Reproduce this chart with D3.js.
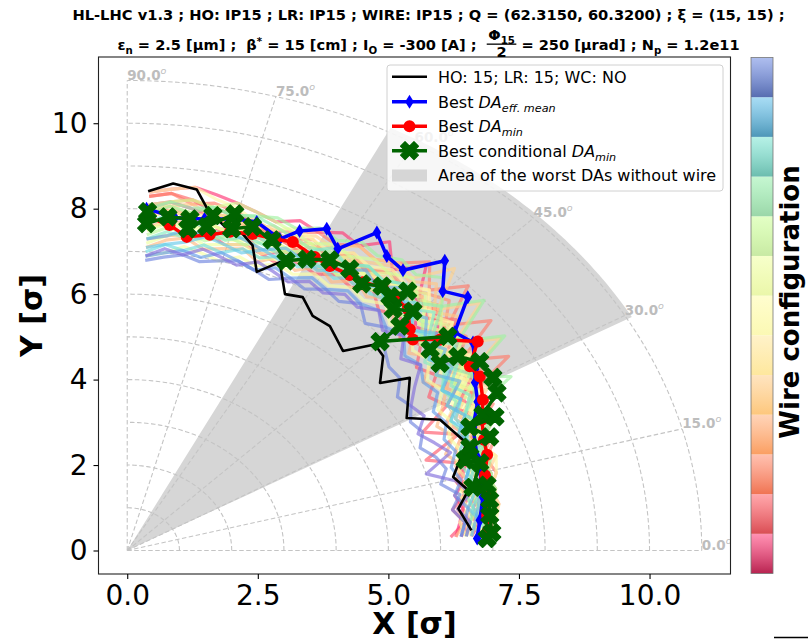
<!DOCTYPE html>
<html><head><meta charset="utf-8">
<script src="https://cdn.jsdelivr.net/npm/d3@7"></script>
<style>body{margin:0;background:#fff}svg{display:block}text{font-family:"DejaVu Sans",sans-serif;white-space:pre}</style>
</head><body><svg id="c" width="808" height="642"></svg>
<script>
// ---------------- data ----------------
const titleLine1 = "HL-LHC v1.3 ; HO: IP15 ; LR: IP15 ; WIRE: IP15 ; Q = (62.3150, 60.3200) ; ξ = (15, 15) ;";
const xTicks = [0, 2.5, 5, 7.5, 10];
const yTicks = [0, 2, 4, 6, 8, 10];
const gridRadii = [1, 2, 3, 4, 5, 6, 7, 8, 9, 10, 11];
const gridAngles = [0, 15, 30, 45, 60, 75, 90];
const angleLabels = ["0.0", "15.0", "30.0", "45.0", "60.0", "75.0", "90.0"];
const wedgeAngles = [29.5, 63];
const wedgeRadius = 11.1;
const nConfigBands = 13;

// wire-configuration scan lines: DA radius at each angle
const bgAngles = [2.9,5.8,8.7,11.6,14.5,17.4,20.3,23.2,26.1,29.0,31.9,34.8,37.7,40.6,43.5,46.5,49.4,52.3,55.2,58.1,61.0,63.9,66.8,69.7,72.6,75.5,78.4,81.3,84.2,87.1];
const bgRadii = [
 [6.3,6.4,6.5,6.4,6.7,6.6,6.9,7.0,6.8,7.3,7.1,7.6,7.3,7.8,7.6,8.1,7.8,8.0,7.7,7.9,7.8,7.6,7.9,7.7,7.8,7.9,8.0,8.1,8.2,8.1],
 [6.6,6.8,6.7,7.0,6.9,7.1,7.3,7.1,7.5,7.3,7.8,7.5,8.0,7.8,8.3,8.1,8.8,8.3,8.8,8.4,8.5,8.3,8.4,8.2,8.3,8.4,8.5,8.6,8.5,8.4],
 [6.2,6.5,6.3,6.6,6.5,6.8,6.7,7.0,7.3,7.0,7.5,7.2,7.8,7.5,8.2,7.9,7.7,8.0,7.6,7.8,7.5,7.7,7.6,7.4,7.7,7.8,7.6,7.9,8.0,7.9],
 [6.4,6.6,6.5,6.7,6.6,6.8,6.1,6.9,6.3,7.0,6.8,7.2,7.0,7.4,7.2,7.6,7.4,7.7,7.5,7.6,7.4,7.5,7.3,7.4,7.5,7.4,7.6,7.5,7.4,7.3],
 [6.6,6.7,6.6,6.9,6.8,7.1,6.9,7.3,7.1,7.6,7.4,7.9,7.6,8.3,7.9,8.2,8.1,7.9,8.0,7.8,7.9,7.7,7.8,7.9,8.0,8.2,8.1,8.3,8.4,8.3],
 [7.1,7.0,7.2,7.1,7.3,7.2,7.5,7.3,7.8,7.5,8.6,7.8,8.8,8.1,9.0,8.4,8.9,8.5,8.3,8.4,8.2,8.3,8.1,8.0,8.1,8.2,8.3,8.2,8.4,8.3],
 [6.9,7.0,7.1,7.0,7.2,7.1,7.4,7.3,7.7,7.5,8.0,7.7,8.2,8.0,8.5,8.3,8.1,8.2,8.0,8.1,7.9,8.0,7.8,7.9,8.0,8.1,8.2,8.3,8.2,8.0],
 [6.8,6.7,6.9,6.8,7.1,6.9,7.2,7.0,7.3,7.6,7.4,7.8,7.6,8.0,8.2,7.9,8.1,8.3,8.0,8.2,7.9,8.1,7.9,8.0,7.8,7.9,8.0,7.8,7.7,7.6],
 [6.5,6.6,6.8,6.7,6.9,6.8,7.0,7.2,7.0,7.4,7.2,7.7,7.5,7.9,7.7,8.0,8.2,7.9,8.1,7.8,7.7,7.9,7.6,7.8,7.9,8.0,7.8,7.9,8.1,7.9],
 [6.3,6.5,6.4,6.6,6.5,6.7,6.5,6.8,6.6,6.9,7.2,6.9,7.4,7.1,7.6,7.4,7.8,7.5,7.7,7.4,7.6,7.3,7.5,7.2,7.4,7.3,7.2,7.4,7.3,7.1],
 [7.0,6.9,7.1,7.2,7.0,7.3,7.2,7.5,7.3,7.8,7.6,8.1,7.8,8.4,8.1,8.6,8.3,8.4,8.2,8.0,8.1,7.9,8.0,7.8,7.9,8.1,8.0,8.2,8.1,8.0],
 [6.9,7.0,7.0,7.2,7.1,7.4,7.2,7.6,7.4,7.9,7.6,8.7,7.9,8.9,8.2,9.1,8.4,8.5,8.3,8.4,8.1,8.2,8.0,8.1,7.9,8.0,8.1,7.9,8.0,7.8],
 [6.7,6.8,6.9,6.8,7.0,6.9,7.1,7.3,7.2,7.5,7.3,7.6,7.9,7.7,8.0,8.2,7.9,8.1,7.8,8.0,7.7,7.8,7.6,7.7,7.8,7.6,7.7,7.9,7.8,7.7],
 [6.6,6.5,6.7,6.6,6.8,6.9,6.7,7.0,6.8,7.2,7.5,7.2,7.7,7.4,7.9,7.6,8.0,7.8,7.9,7.7,7.8,7.6,7.7,7.8,7.6,7.7,7.8,8.0,8.1,8.0],
 [6.8,6.9,6.8,7.0,6.9,7.2,7.0,7.4,7.1,7.7,7.3,8.0,7.6,8.2,7.8,8.4,8.1,8.0,7.9,7.7,7.8,7.6,7.7,7.5,7.6,7.7,7.8,7.9,8.0,7.8],
 [7.0,7.1,7.2,7.1,7.3,7.4,7.2,7.5,7.3,7.7,7.5,8.0,7.7,8.2,8.0,8.4,8.2,8.3,8.1,8.2,8.0,8.1,8.2,8.0,8.1,8.3,8.4,8.6,8.5,8.4],
 [6.6,6.7,6.9,6.7,6.8,7.0,6.8,7.1,7.4,7.1,7.6,7.3,7.9,7.5,8.1,7.9,8.2,7.8,7.9,7.6,7.8,7.5,7.7,7.4,7.6,7.5,7.7,7.6,7.8,7.5],
 [6.5,6.4,6.6,6.5,6.7,6.6,6.8,6.7,6.9,6.8,7.1,7.0,7.3,7.2,7.5,7.3,7.6,7.4,7.5,7.3,7.4,7.2,7.3,7.1,7.2,7.0,7.1,7.2,7.0,6.9],
 [6.9,7.0,6.9,7.1,7.0,7.2,7.1,7.0,7.5,7.2,7.7,7.5,7.4,7.9,7.7,8.0,7.8,7.7,7.6,7.8,7.5,7.6,7.4,7.3,7.5,7.4,7.3,7.5,7.4,7.2],
 [6.7,6.9,6.8,7.0,7.2,7.0,7.3,7.1,7.4,7.7,7.4,7.9,7.6,8.1,7.8,8.3,8.0,8.2,7.9,8.1,7.8,8.0,7.7,7.8,7.9,7.7,7.8,7.6,7.7,7.5],
 [6.8,6.9,7.0,7.1,7.0,7.2,7.3,7.2,7.6,7.4,7.9,7.6,8.1,7.9,8.3,8.1,8.4,8.2,8.3,8.1,8.2,8.0,8.1,8.2,8.3,8.4,8.2,8.3,8.2,8.1],
 [6.8,6.6,6.8,6.7,6.9,6.8,7.0,6.9,7.2,7.0,7.4,7.2,7.6,7.4,7.8,7.6,7.9,7.7,7.8,7.6,7.7,7.8,7.6,7.7,7.5,7.6,7.4,7.5,7.6,7.4],
 [7.0,7.1,7.0,7.2,7.1,7.3,7.2,7.6,7.4,8.4,7.7,8.8,8.0,9.0,8.3,8.8,8.5,8.6,8.4,8.5,8.3,8.4,8.2,8.3,8.2,8.1,8.2,8.0,8.1,7.9],
 [7.0,6.9,7.0,7.1,7.2,7.0,7.3,7.5,7.2,7.6,7.8,7.5,8.0,7.7,8.3,8.0,8.2,8.0,8.1,7.9,8.0,7.9,8.0,8.1,8.2,8.1,8.2,8.1,8.2,8.0],
 [6.5,6.6,6.7,6.6,6.8,6.7,6.9,7.0,6.9,7.2,7.1,7.4,7.2,7.6,7.4,7.8,7.6,7.9,7.7,7.8,7.6,7.7,7.5,7.6,7.7,7.5,7.6,7.4,7.5,7.3],
 [6.9,6.8,7.0,6.9,7.1,7.0,7.2,7.4,7.2,7.5,7.3,7.7,7.9,7.6,8.1,7.8,8.2,8.0,8.1,7.9,8.1,7.8,7.9,7.7,7.8,7.6,7.7,7.8,7.9,7.7],
 [6.7,6.8,6.7,6.9,6.8,7.0,6.9,7.1,7.0,7.3,7.1,7.5,7.3,7.7,7.5,7.9,7.7,7.6,7.8,7.5,7.6,7.4,7.5,7.3,7.4,7.2,7.3,7.1,7.2,7.0],
 [6.7,6.8,6.6,6.8,6.7,6.9,6.8,7.1,6.9,7.3,7.1,7.6,7.3,7.8,7.5,8.0,7.7,7.8,7.6,7.7,7.5,7.6,7.4,7.5,7.3,7.4,7.5,7.3,7.2,7.1],
 [6.6,6.7,6.8,6.9,6.7,6.9,7.1,6.9,7.2,7.0,7.5,7.2,7.7,7.5,7.9,7.7,8.1,7.8,8.0,7.7,7.9,7.6,7.7,7.5,7.6,7.7,7.5,7.6,7.4,7.3],
 [6.4,6.5,6.6,6.4,6.6,6.5,6.7,6.6,6.8,6.7,7.0,6.9,7.1,7.0,7.3,7.2,7.4,7.3,7.4,7.2,7.3,7.1,7.2,7.0,7.1,7.2,7.0,7.1,7.0,6.9],
 [6.4,6.5,6.3,6.5,6.2,6.4,6.3,6.1,6.3,6.2,6.4,6.3,6.6,6.6,6.8,7.2,7.0,7.3,7.1,7.2,7.0,7.1,6.9,7.0,7.1,7.0,6.9,7.0,6.9,6.8],
 [6.5,6.6,6.4,6.7,6.5,6.0,6.6,6.4,6.2,6.5,6.4,6.7,7.1,6.9,7.3,7.1,7.4,7.2,7.3,7.1,7.2,7.0,7.1,7.2,7.0,7.1,7.2,7.0,7.1,6.9]
];

// HO: 15; LR: 15; WC: NO
const noWireX = [0.40,0.88,1.33,1.55,1.87,2.21,2.40,2.48,2.92,3.02,3.36,3.55,3.88,4.13,4.74,4.90,4.84,5.41,5.35,5.99,6.50,6.24,6.53,6.34,6.59];
const noWireY = [8.41,8.59,8.45,7.96,7.58,7.41,7.14,6.52,6.75,6.00,5.93,5.49,5.25,4.67,4.82,4.55,3.92,4.04,3.10,3.06,2.51,1.72,1.41,0.98,0.47];
// Best DA eff. mean
const bestMeanX = [0.37,0.91,1.48,2.06,2.48,2.92,3.30,3.82,4.03,4.78,4.97,5.28,6.08,6.04,6.52,6.27,6.62,6.66,6.66,6.71,6.62,6.70,6.75,6.81,6.75,6.70];
const bestMeanY = [8.00,7.79,7.76,7.76,7.69,7.29,7.48,7.53,7.06,7.44,6.89,6.56,6.78,6.07,5.93,5.11,4.87,4.24,3.93,3.48,2.89,2.19,1.88,1.25,0.71,0.28];
// Best DA min
const bestMinX = [0.37,0.81,1.14,1.58,1.97,2.40,2.83,3.17,3.59,3.88,4.26,4.51,4.89,5.16,5.37,5.41,5.47,5.99,6.71,6.56,6.75,6.81,6.79,6.83,6.89,6.85,6.94,6.89,6.91];
const bestMinY = [7.81,7.62,7.34,7.39,7.46,7.41,7.29,7.22,6.87,6.66,6.45,6.28,6.16,5.88,5.65,5.18,4.94,4.94,4.89,4.31,4.07,3.53,3.06,2.59,2.24,1.76,1.29,0.82,0.47];
// Best conditional DA min
const bestCondX = [0.39,0.37,0.78,1.20,1.16,1.64,1.52,2.06,2.00,2.40,2.77,3.04,3.44,3.88,4.26,4.49,4.88,5.03,5.37,5.09,5.47,5.22,4.84,6.14,5.80,5.99,6.33,6.75,7.00,7.08,6.81,7.04,6.56,6.94,6.56,6.47,6.75,6.62,6.89,6.94,6.94,6.98,6.89];
const bestCondY = [7.93,7.65,7.81,7.76,7.53,7.84,7.58,7.88,7.53,7.58,7.27,6.78,6.82,6.80,6.59,6.24,6.19,5.95,6.07,5.65,5.60,5.25,4.89,5.01,4.71,4.38,4.54,4.42,4.05,3.69,3.18,3.13,2.89,2.66,2.42,2.12,2.05,1.48,1.53,1.18,0.82,0.42,0.28];

// ---------------- drawing ----------------
const svg = d3.select("#c");
const L = 98.5, R = 730.5, T = 57, B = 574;
const x = d3.scaleLinear().domain([-0.55, 11.55]).range([L, R]);
const y = d3.scaleLinear().domain([-0.55, 11.55]).range([B, T]);
const rad = d => d * Math.PI / 180;
const pol = (r, a) => [x(r * Math.cos(rad(a))), y(r * Math.sin(rad(a)))];
const zip = (X, Y) => X.slice(0, Math.min(X.length, Y.length)).map((v, i) => [x(v), y(Y[i])]);
const line = d3.line();

const defs = svg.append("defs");
defs.append("clipPath").attr("id", "clip").append("rect").attr("x", L).attr("y", T).attr("width", R - L).attr("height", B - T);
const plot = svg.append("g").attr("clip-path", "url(#clip)");

// wedge
const wedgePts = [pol(0, 0)];
for (let a = wedgeAngles[0]; a <= wedgeAngles[1] + 1e-9; a += 0.5) wedgePts.push(pol(wedgeRadius, a));
plot.append("path").attr("d", line(wedgePts) + "Z").attr("fill", "#d6d6d6");

// polar grid
const gridG = plot.append("g").attr("fill", "none").attr("stroke", "#c4c4c4").attr("stroke-width", 1.1).attr("stroke-dasharray", "4.5,2.5");
gridRadii.forEach(r => gridG.append("path").attr("d", line(d3.range(0, 90.01, 1).map(a => pol(r, a)))));
gridAngles.forEach(a => gridG.append("path").attr("d", line([pol(0, a), pol(11, a)])));

// background lines (pastel version of Spectral)
const pastel = t => {
  const c = d3.hsl(d3.interpolateSpectral(t));
  c.s = Math.min(1, c.s * 1.5 + 0.1);
  c.l = 0.5 * c.l + 0.41;
  return c.formatHex();
};
const nBg = bgRadii.length;
bgRadii.forEach((rs, i) => {
  const pts = rs.map((r, j) => pol(r, bgAngles[j]));
  plot.append("path").attr("d", line(pts)).attr("fill", "none")
    .attr("stroke", pastel(i / (nBg - 1))).attr("stroke-opacity", 0.65)
    .attr("stroke-width", 3.2).attr("stroke-linejoin", "round");
});

// angle labels
angleLabels.forEach((lab, i) => {
  const p = pol(11, gridAngles[i]);
  const t = plot.append("text").attr("x", p[0]).attr("y", p[1] - 1).attr("fill", "#bdbdbd")
    .attr("font-weight", "bold").attr("font-size", 13.5).text(lab);
  t.append("tspan").attr("dy", -6).attr("font-size", 9.5).attr("font-style", "italic").attr("font-weight", "normal").text("o");
});

// highlighted series
const diamond = "M0,-7L4.3,0L0,7L-4.3,0Z";
const xMark = d3.symbol(d3.symbolCross, 200)();
function series(X, Y, color, lw, marker) {
  const pts = zip(X, Y);
  plot.append("path").attr("d", line(pts)).attr("fill", "none").attr("stroke", color)
    .attr("stroke-width", lw).attr("stroke-linejoin", "round");
  if (marker) pts.forEach(p => marker(plot, p));
}
const drawDiamond = (g, p) => g.append("path").attr("d", diamond).attr("transform", `translate(${p[0]},${p[1]})`).attr("fill", "#0000ff");
const drawCircle = (g, p) => g.append("circle").attr("cx", p[0]).attr("cy", p[1]).attr("r", 6).attr("fill", "#ff0000");
const drawX = (g, p) => g.append("path").attr("d", xMark).attr("transform", `translate(${p[0]},${p[1]}) rotate(45)`)
  .attr("fill", "#006400").attr("stroke", "#006400").attr("stroke-width", 1.2).attr("stroke-linejoin", "round");

series(noWireX, noWireY, "#000", 2.6, null);
series(bestMeanX, bestMeanY, "#0000ff", 3.5, drawDiamond);
series(bestMinX, bestMinY, "#ff0000", 3.5, drawCircle);
series(bestCondX, bestCondY, "#006400", 3.5, drawX);

// frame & axes
svg.append("rect").attr("x", L).attr("y", T).attr("width", R - L).attr("height", B - T)
  .attr("fill", "none").attr("stroke", "#222").attr("stroke-width", 1.1);
const ax = svg.append("g").attr("transform", `translate(0,${B})`)
  .call(d3.axisBottom(x).tickValues(xTicks).tickFormat(d3.format(".1f")).tickSize(5).tickPadding(6).tickSizeOuter(0));
const ay = svg.append("g").attr("transform", `translate(${L},0)`)
  .call(d3.axisLeft(y).tickValues(yTicks).tickFormat(d3.format("d")).tickSize(5).tickPadding(6).tickSizeOuter(0));
[ax, ay].forEach(g => {
  g.select(".domain").remove();
  g.selectAll("text").attr("font-size", 28).attr("fill", "#000").attr("font-family", "DejaVu Sans");
  g.selectAll("line").attr("stroke", "#000").attr("stroke-width", 1.1);
});
svg.append("text").attr("x", (L + R) / 2).attr("y", 634).attr("text-anchor", "middle")
  .attr("font-weight", "bold").attr("font-size", 30).text("X [σ]");
svg.append("text").attr("transform", `translate(42,${(T + B) / 2}) rotate(-90)`).attr("text-anchor", "middle")
  .attr("font-weight", "bold").attr("font-size", 30).text("Y [σ]");

// rich text helper
function rich(t, parts) {
  let shift = 0;
  parts.forEach(pp => {
    const want = pp.sub ? 4 : (pp.sup ? -5 : 0);
    const ts = t.append("tspan").text(pp.t).attr("dy", want - shift);
    if (pp.sub || pp.sup) ts.attr("font-size", "0.7em");
    if (pp.it) ts.attr("font-style", "italic");
    shift = want;
  });
  return t;
}

// title
const titleCx = 428.5;
const t1 = svg.append("text").attr("x", titleCx).attr("y", 20).attr("text-anchor", "middle")
  .attr("font-weight", "bold").attr("font-size", 12).text(titleLine1);
const fs = 12 * 713 / t1.node().getComputedTextLength();
t1.attr("font-size", fs);

function buildLine2(size) {
  const g2 = svg.append("g").attr("font-weight", "bold").attr("font-size", size);
  const tA = rich(g2.append("text").attr("x", 0).attr("y", 0), [
    {t: "ε"}, {t: "n", sub: true}, {t: " = 2.5 [μm] ;  β"}, {t: "*", sup: true},
    {t: " = 15 [cm] ; I"}, {t: "O", sub: true}, {t: " = -300 [A] ;  "}
  ]);
  const wA = tA.node().getComputedTextLength();
  const num = rich(g2.append("text").attr("y", -10).attr("text-anchor", "middle"), [{t: "Φ"}, {t: "15", sub: true}]);
  const den = g2.append("text").attr("y", 7).attr("text-anchor", "middle").text("2");
  const fw = Math.max(num.node().getComputedTextLength(), den.node().getComputedTextLength()) + 3;
  num.attr("x", wA + fw / 2); den.attr("x", wA + fw / 2);
  g2.append("rect").attr("x", wA).attr("y", -6.5).attr("width", fw).attr("height", 1.3).attr("fill", "#000");
  const tB = rich(g2.append("text").attr("x", wA + fw).attr("y", 0), [
    {t: " = 250 [μrad] ; N"}, {t: "p", sub: true}, {t: " = 1.2e11"}
  ]);
  const tot = wA + fw + tB.node().getComputedTextLength();
  g2.attr("transform", `translate(${titleCx - tot / 2},50)`);
  return {g2, tot};
}
let l2 = buildLine2(fs);
if (Math.abs(l2.tot - 622) > 4) { const s = fs * 622 / l2.tot; l2.g2.remove(); l2 = buildLine2(s); }

// legend
const lg = svg.append("g");
lg.append("rect").attr("x", 387).attr("y", 65).attr("width", 336).attr("height", 126).attr("rx", 3)
  .attr("fill", "#fff").attr("fill-opacity", 0.8).attr("stroke", "#d0d0d0").attr("stroke-width", 1);
const rows = [76.7, 101.7, 126.2, 150.7, 175.5];
const hx0 = 392, hx1 = 427, hxc = (hx0 + hx1) / 2, tx = 438;
const legItems = [
  {c: "#000", lw: 2.6, m: null, parts: [{t: "HO: 15; LR: 15; WC: NO"}]},
  {c: "#0000ff", lw: 3.5, m: drawDiamond, parts: [{t: "Best "}, {t: "DA", it: true}, {t: "eff. mean", sub: true, it: true}]},
  {c: "#ff0000", lw: 3.5, m: drawCircle, parts: [{t: "Best "}, {t: "DA", it: true}, {t: "min", sub: true, it: true}]},
  {c: "#006400", lw: 3.5, m: drawX, parts: [{t: "Best conditional "}, {t: "DA", it: true}, {t: "min", sub: true, it: true}]}
];
legItems.forEach((it, i) => {
  const yy = rows[i];
  lg.append("line").attr("x1", hx0).attr("x2", hx1).attr("y1", yy).attr("y2", yy).attr("stroke", it.c).attr("stroke-width", it.lw);
  if (it.m) it.m(lg, [hxc, yy]);
  rich(lg.append("text").attr("x", tx).attr("y", yy + 5.8).attr("font-size", 16), it.parts);
});
lg.append("rect").attr("x", hx0).attr("y", rows[4] - 6).attr("width", hx1 - hx0).attr("height", 12).attr("fill", "#d6d6d6");
lg.append("text").attr("x", tx).attr("y", rows[4] + 5.8).attr("font-size", 16).text("Area of the worst DAs without wire");

// colorbar
const cbX = 751, cbW = 22, cbT = 57.5, cbB = 573.5;
const cbY = d3.scaleLinear().domain([0, nConfigBands]).range([cbB, cbT]);
d3.range(nConfigBands).forEach(i => {
  const t = (i + 0.5) / nConfigBands;
  const gid = "cbg" + i;
  const gr = defs.append("linearGradient").attr("id", gid).attr("x1", 0).attr("x2", 0).attr("y1", 0).attr("y2", 1);
  gr.append("stop").attr("offset", "0%").attr("stop-color", pastel(t)).attr("stop-opacity", 0.55);
  gr.append("stop").attr("offset", "100%").attr("stop-color", d3.interpolateSpectral(t)).attr("stop-opacity", 0.95);
  svg.append("rect").attr("x", cbX).attr("y", cbY(i + 1)).attr("width", cbW).attr("height", cbY(i) - cbY(i + 1))
    .attr("fill", `url(#${gid})`);
});
svg.append("rect").attr("x", cbX).attr("y", cbT).attr("width", cbW).attr("height", cbB - cbT)
  .attr("fill", "none").attr("stroke", "#777").attr("stroke-width", 0.8);
svg.append("text").attr("transform", "translate(799,302) rotate(-90)").attr("text-anchor", "middle")
  .attr("font-weight", "bold").attr("font-size", 26).text("Wire configuration");
svg.append("line").attr("x1", 774).attr("x2", 808).attr("y1", 637.5).attr("y2", 637.5).attr("stroke", "#000").attr("stroke-width", 1.5);
</script></body></html>
